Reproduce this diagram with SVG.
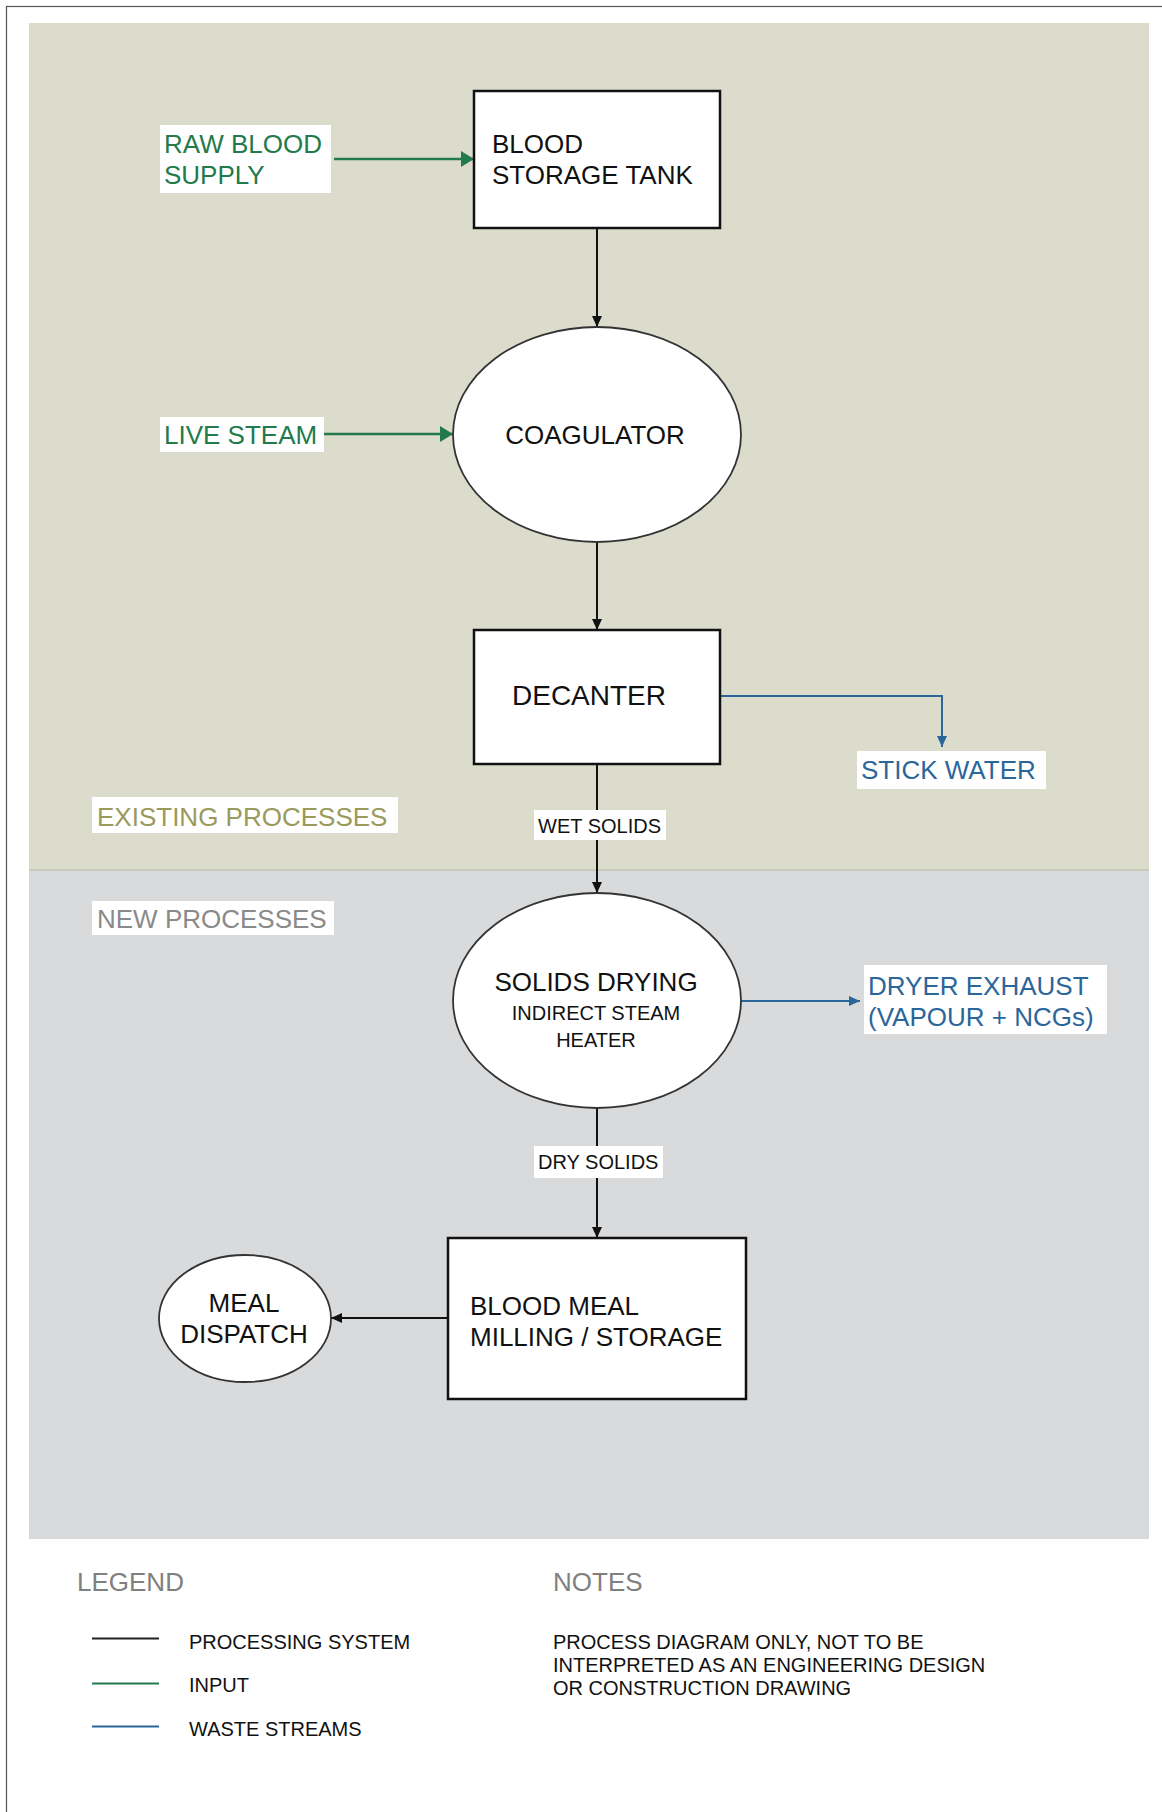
<svg xmlns="http://www.w3.org/2000/svg" width="1162" height="1812" viewBox="0 0 1162 1812">
<style>
text{font-family:"Liberation Sans",Arial,sans-serif;}
.big{font-size:26px;fill:#111;}
.small{font-size:20px;fill:#111;}
.grn{font-size:26px;fill:#237a4b;}
.blu{font-size:26px;fill:#2b669a;}
.box{fill:#fff;stroke:#111;stroke-width:2.5;}
.ell{fill:#fff;stroke:#333;stroke-width:1.8;}
.lbl{fill:#fff;}
.k{stroke:#111;stroke-width:2;fill:none;}
.g{stroke:#237a4b;stroke-width:2.5;fill:none;}
.b{stroke:#2b669a;stroke-width:2;fill:none;}
</style>
<defs>
<marker id="ak" markerUnits="userSpaceOnUse" markerWidth="12" markerHeight="12" refX="11" refY="6" orient="auto"><path d="M0,1 L11,6 L0,11 z" fill="#111"/></marker>
<marker id="ag" markerUnits="userSpaceOnUse" markerWidth="14" markerHeight="16" refX="13" refY="8" orient="auto"><path d="M0,0 L13,8 L0,16 z" fill="#237a4b"/></marker>
<marker id="ab" markerUnits="userSpaceOnUse" markerWidth="12" markerHeight="12" refX="11" refY="6" orient="auto"><path d="M0,1 L11,6 L0,11 z" fill="#2b669a"/></marker>
</defs>
<rect x="0" y="0" width="1162" height="1812" fill="#fff"/>
<rect x="6.5" y="6.5" width="1175" height="1825" fill="none" stroke="#555" stroke-width="1.2"/>
<g id="zones">
<rect x="29" y="23" width="1120" height="847" fill="#dcdccd"/>
<rect x="29" y="870" width="1120" height="669" fill="#d9dadb"/>
<line x1="29" y1="870" x2="1149" y2="870" stroke="#c4c4b4" stroke-width="1.5"/>
</g>
<g id="connectors">
<line class="g" x1="334" y1="159" x2="474" y2="159" marker-end="url(#ag)"/>
<line class="k" x1="597" y1="228" x2="597" y2="327" marker-end="url(#ak)"/>
<line class="g" x1="324" y1="434" x2="453" y2="434" marker-end="url(#ag)"/>
<line class="k" x1="597" y1="542" x2="597" y2="630" marker-end="url(#ak)"/>
<path class="b" d="M720,696 H942 V747" marker-end="url(#ab)"/>
<line class="k" x1="597" y1="764" x2="597" y2="893" marker-end="url(#ak)"/>
<line class="b" x1="740" y1="1001" x2="860" y2="1001" marker-end="url(#ab)"/>
<line class="k" x1="597" y1="1108" x2="597" y2="1238" marker-end="url(#ak)"/>
<line class="k" x1="448" y1="1318" x2="331" y2="1318" marker-end="url(#ak)"/>
</g>
<g id="raw-blood-supply">
<rect class="lbl" x="160" y="125" width="171" height="68"/>
<text class="grn" x="164" y="153">RAW BLOOD</text>
<text class="grn" x="164" y="184">SUPPLY</text>
</g>
<g id="blood-storage-tank">
<rect class="box" x="474" y="91" width="246" height="137"/>
<text class="big" x="492" y="153">BLOOD</text>
<text class="big" x="492" y="184">STORAGE TANK</text>
</g>
<g id="live-steam">
<rect class="lbl" x="160" y="417" width="164" height="35"/>
<text class="grn" x="164" y="444">LIVE STEAM</text>
</g>
<g id="coagulator">
<ellipse class="ell" cx="597" cy="434.5" rx="144" ry="107.5"/>
<text class="big" x="595" y="444" text-anchor="middle">COAGULATOR</text>
</g>
<g id="decanter">
<rect class="box" x="474" y="630" width="246" height="134"/>
<text class="big" x="512" y="705" style="font-size:28px">DECANTER</text>
</g>
<g id="stick-water">
<rect class="lbl" x="857" y="751" width="189" height="38"/>
<text class="blu" x="861" y="779">STICK WATER</text>
</g>
<g id="existing-processes">
<rect class="lbl" x="92" y="797" width="306" height="36"/>
<text x="97" y="826" style="font-size:26px;fill:#9a9a5c">EXISTING PROCESSES</text>
</g>
<g id="wet-solids">
<rect class="lbl" x="534" y="810" width="132" height="30"/>
<text class="small" x="538" y="833">WET SOLIDS</text>
</g>
<g id="new-processes">
<rect class="lbl" x="92" y="901" width="242" height="34"/>
<text x="97" y="928" style="font-size:26px;fill:#8a8a8a">NEW PROCESSES</text>
</g>
<g id="solids-drying">
<ellipse class="ell" cx="597" cy="1000.5" rx="144" ry="107.5"/>
<text class="big" x="596" y="991" text-anchor="middle">SOLIDS DRYING</text>
<text class="small" x="596" y="1020" text-anchor="middle">INDIRECT STEAM</text>
<text class="small" x="596" y="1047" text-anchor="middle">HEATER</text>
</g>
<g id="dryer-exhaust">
<rect class="lbl" x="864" y="965" width="243" height="69"/>
<text class="blu" x="868" y="995">DRYER EXHAUST</text>
<text class="blu" x="868" y="1026">(VAPOUR + NCGs)</text>
</g>
<g id="dry-solids">
<rect class="lbl" x="534" y="1146" width="129" height="32"/>
<text class="small" x="538" y="1169">DRY SOLIDS</text>
</g>
<g id="blood-meal">
<rect class="box" x="448" y="1238" width="298" height="161"/>
<text class="big" x="470" y="1315">BLOOD MEAL</text>
<text class="big" x="470" y="1346">MILLING / STORAGE</text>
</g>
<g id="meal-dispatch">
<ellipse class="ell" cx="245" cy="1318.5" rx="86" ry="63.5"/>
<text class="big" x="244" y="1312" text-anchor="middle">MEAL</text>
<text class="big" x="244" y="1343" text-anchor="middle">DISPATCH</text>
</g>
<g id="legend">
<text x="77" y="1591" style="font-size:26px;fill:#808080">LEGEND</text>
<line x1="92" y1="1638.5" x2="159" y2="1638.5" stroke="#222" stroke-width="2"/>
<line x1="92" y1="1683.5" x2="159" y2="1683.5" stroke="#237a4b" stroke-width="2"/>
<line x1="92" y1="1726.5" x2="159" y2="1726.5" stroke="#2b669a" stroke-width="2"/>
<text class="small" x="189" y="1649">PROCESSING SYSTEM</text>
<text class="small" x="189" y="1692">INPUT</text>
<text class="small" x="189" y="1736">WASTE STREAMS</text>
</g>
<g id="notes">
<text x="553" y="1591" style="font-size:26px;fill:#808080">NOTES</text>
<text class="small" x="553" y="1649">PROCESS DIAGRAM ONLY, NOT TO BE</text>
<text class="small" x="553" y="1672">INTERPRETED AS AN ENGINEERING DESIGN</text>
<text class="small" x="553" y="1695">OR CONSTRUCTION DRAWING</text>
</g>
</svg>
